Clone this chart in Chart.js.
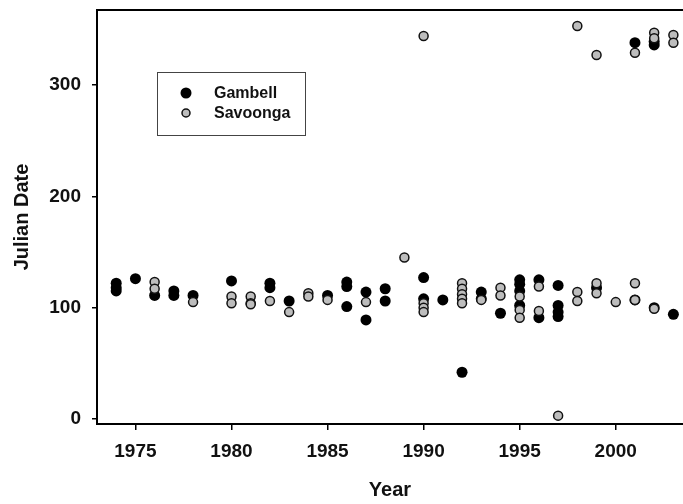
<!DOCTYPE html>
<html>
<head>
<meta charset="utf-8">
<script src="https://cdn.jsdelivr.net/npm/chart.js@4/dist/chart.umd.min.js"></script>
<style>
  body { margin: 0; background: #fff; }
  canvas { display: block; }
</style>
</head>
<body>
<canvas id="julianChart" width="683" height="504"></canvas>
<script>
// values
const gambellYears = [1974, 1974, 1974, 1975, 1976, 1977, 1977, 1978, 1980, 1982, 1982, 1983, 1985,
    1986, 1986, 1986, 1987, 1987, 1988, 1988, 1990, 1990, 1991, 1992, 1993, 1993, 1994,
    1995, 1995, 1995, 1995, 1996, 1996, 1997, 1997, 1997, 1997, 1999, 2001, 2001,
    2002, 2002, 2002, 2003]
const gambellDates = [122, 118, 115, 126, 111, 115, 111, 111, 124, 122, 118, 106, 111,
    123, 119, 101, 114, 89, 117, 106, 127, 108, 107, 42, 114, 108, 95,
    125, 121, 115, 102, 125, 91, 120, 102, 96, 92, 118, 338, 107,
    339, 336, 100, 94]

const savoongaYears = [1976, 1976, 1978, 1980, 1980, 1981, 1981, 1981, 1982, 1983, 1984, 1984, 1985,
    1987, 1989, 1990, 1990, 1990, 1990, 1992, 1992, 1992, 1992, 1992, 1993, 1994, 1994,
    1995, 1995, 1995, 1996, 1996, 1997, 1998, 1998, 1998, 1999, 1999, 1999, 2000,
    2001, 2001, 2001, 2002, 2002, 2002, 2003, 2003]
const savoongaDates = [123, 117, 105, 110, 104, 110, 104, 103, 106, 96, 113, 110, 107,
    105, 145, 344, 104, 100, 96, 122, 117, 112, 108, 104, 107, 118, 111,
    110, 98, 91, 119, 97, 3, 353, 114, 106, 327, 122, 113, 105,
    329, 122, 107, 347, 342, 99, 345, 338]

const xTicks = [1975, 1980, 1985, 1990, 1995, 2000]
const yTicks = [0, 100, 200, 300]
const seriesNames = ['Gambell', 'Savoonga']

const toPoints = (xs, ys) => xs.map((x, i) => ({ x: x, y: ys[i] }))

const FONT = "'Liberation Sans', Arial, sans-serif"

// top border of the plot box + the legend box inside the plot
const boxAndLegend = {
    id: 'boxAndLegend',
    afterDraw(chart) {
        const ctx = chart.ctx
        const area = chart.chartArea
        ctx.save()
        ctx.strokeStyle = '#000'
        ctx.lineWidth = 2
        ctx.beginPath()
        ctx.moveTo(area.left - 1, area.top)
        ctx.lineTo(area.right, area.top)
        ctx.stroke()

        ctx.lineWidth = 1
        ctx.strokeStyle = '#444'
        ctx.strokeRect(157.5, 72.5, 148, 63)

        const ds = chart.data.datasets
        const rows = [93, 113]
        ds.forEach((d, i) => {
            ctx.beginPath()
            ctx.arc(186, rows[i], i === 0 ? 5.5 : 4, 0, Math.PI * 2)
            ctx.fillStyle = d.backgroundColor
            ctx.fill()
            if (d.borderWidth) {
                ctx.lineWidth = 1.5
                ctx.strokeStyle = d.borderColor
                ctx.stroke()
            }
            ctx.fillStyle = '#111'
            ctx.font = 'bold 16px ' + FONT
            ctx.textBaseline = 'middle'
            ctx.textAlign = 'left'
            ctx.fillText(d.label, 214, rows[i] + 1)
        })
        ctx.restore()
    }
}

const tickFont = { family: FONT, size: 19, weight: 'bold' }
const titleFont = { family: FONT, size: 20, weight: 'bold' }

new Chart(document.getElementById('julianChart'), {
    type: 'scatter',
    data: {
        datasets: [
            {
                label: seriesNames[0],
                data: toPoints(gambellYears, gambellDates),
                backgroundColor: '#000',
                borderColor: '#000',
                borderWidth: 0,
                pointRadius: 5.5,
                order: 2,
            },
            {
                label: seriesNames[1],
                data: toPoints(savoongaYears, savoongaDates),
                backgroundColor: '#bdbdbd',
                borderColor: '#111',
                borderWidth: 1.5,
                pointRadius: 4.5,
                order: 1,
            },
        ]
    },
    options: {
        responsive: false,
        animation: false,
        layout: { autoPadding: false, padding: { top: 10, right: 0, left: 0, bottom: 0 } },
        plugins: {
            legend: { display: false },
            tooltip: { enabled: false },
        },
        scales: {
            x: {
                type: 'linear',
                min: 1973,
                max: 2003.5,
                afterBuildTicks: (s) => { s.ticks = xTicks.map(v => ({ value: v })) },
                afterFit: (s) => {
                    s.height = 80
                    s.paddingLeft = 0
                    s.paddingRight = 0
                },
                grid: { display: true, drawOnChartArea: false, drawTicks: true, tickLength: 6, color: '#000', lineWidth: 1.5 },
                border: { display: true, color: '#000', width: 2 },
                ticks: {
                    font: tickFont, color: '#111', padding: 10, maxRotation: 0, autoSkip: false,
                    callback: (v) => String(v),
                },
                title: { display: true, text: 'Year', font: titleFont, color: '#111', padding: { top: 0, bottom: 2 } },
            },
            y: {
                min: -4.5,
                max: 367.4,
                afterBuildTicks: (s) => { s.ticks = yTicks.map(v => ({ value: v })) },
                afterFit: (s) => {
                    s.width = 97
                    s.paddingTop = 0
                    s.paddingBottom = 0
                },
                grid: { display: true, drawOnChartArea: false, drawTicks: true, tickLength: 5, color: '#000', lineWidth: 1.5 },
                border: { display: true, color: '#000', width: 2 },
                ticks: { font: tickFont, color: '#111', padding: 11, callback: (v) => String(v) },
                title: { display: true, text: 'Julian Date', font: titleFont, color: '#111', padding: { top: 10, bottom: 0 } },
            },
        }
    },
    plugins: [boxAndLegend]
})
</script>
</body>
</html>
